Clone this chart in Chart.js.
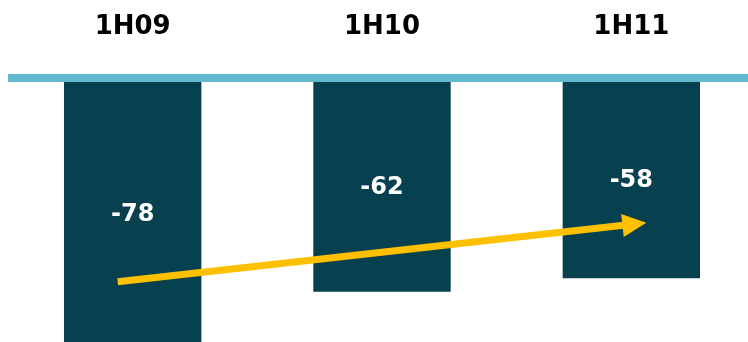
<!DOCTYPE html>
<html>
<head>
<meta charset="utf-8">
<script src="https://cdn.jsdelivr.net/npm/chart.js@4/dist/chart.umd.min.js"></script>
<style>
  html, body { margin: 0; padding: 0; background: #ffffff; overflow: hidden; }
  #wrap { position: relative; width: 760px; height: 350px; }
</style>
</head>
<body>
<div id="wrap"><canvas id="chart"></canvas></div>
<script>
// Half-year periods and their values
const categories = ['1H09', '1H10', '1H11'];
const values = [-78, -62, -58];

// Trend arrow, in axis units: [category index, value]
const trendFrom = [-0.06, -59];
const trendTo = [2.06, -41.6];

const BAR_COLOR = '#07404F';
const AXIS_COLOR = '#62B8CC';
const ARROW_COLOR = '#FFC000';

// Thick baseline along the top of the plot area
const baselinePlugin = {
  id: 'baseline',
  afterDraw(chart) {
    const { ctx, chartArea } = chart;
    ctx.save();
    ctx.fillStyle = AXIS_COLOR;
    ctx.fillRect(chartArea.left, chartArea.top - 8, chart.width - chartArea.left, 8);
    ctx.restore();
  }
};

// Value labels centred on each bar
const valueLabelPlugin = {
  id: 'valueLabels',
  afterDatasetsDraw(chart) {
    const { ctx } = chart;
    const meta = chart.getDatasetMeta(0);
    ctx.save();
    ctx.fillStyle = '#ffffff';
    ctx.font = 'bold 24px "DejaVu Sans"';
    ctx.textAlign = 'center';
    ctx.textBaseline = 'middle';
    meta.data.forEach((bar, i) => {
      const y = (bar.y + bar.base) / 2 + 1;
      ctx.fillText(String(values[i]), bar.x, y);
    });
    ctx.restore();
  }
};

// Trend arrow across the bars
const arrowPlugin = {
  id: 'trendArrow',
  afterDatasetsDraw(chart) {
    const { ctx, scales } = chart;
    const x1 = scales.x.getPixelForValue(trendFrom[0]);
    const y1 = scales.y.getPixelForValue(trendFrom[1]);
    const x2 = scales.x.getPixelForValue(trendTo[0]);
    const y2 = scales.y.getPixelForValue(trendTo[1]);
    const ang = Math.atan2(y2 - y1, x2 - x1);
    const headLen = 24, headHalf = 11.5;
    const bx = x2 - headLen * Math.cos(ang);
    const by = y2 - headLen * Math.sin(ang);
    ctx.save();
    ctx.strokeStyle = ARROW_COLOR;
    ctx.fillStyle = ARROW_COLOR;
    ctx.lineWidth = 7;
    ctx.lineCap = 'butt';
    ctx.beginPath();
    ctx.moveTo(x1, y1);
    ctx.lineTo(bx + Math.cos(ang), by + Math.sin(ang));
    ctx.stroke();
    ctx.beginPath();
    ctx.moveTo(x2, y2);
    ctx.lineTo(bx - headHalf * Math.sin(ang), by + headHalf * Math.cos(ang));
    ctx.lineTo(bx + headHalf * Math.sin(ang), by - headHalf * Math.cos(ang));
    ctx.closePath();
    ctx.fill();
    ctx.restore();
  }
};

new Chart(document.getElementById('chart'), {
  type: 'bar',
  data: {
    labels: categories,
    datasets: [{
      data: values,
      backgroundColor: BAR_COLOR,
      borderWidth: 0,
      barPercentage: 0.551,
      categoryPercentage: 1.0
    }]
  },
  options: {
    responsive: true,
    maintainAspectRatio: false,
    animation: false,
    layout: { padding: { top: 10, left: 8, right: 4, bottom: 4 } },
    plugins: { legend: { display: false }, tooltip: { enabled: false } },
    scales: {
      x: {
        type: 'category',
        position: 'top',
        offset: true,
        grid: { display: false },
        border: { display: false },
        afterFit(scale) { scale.height = 72; },
        ticks: {
          color: '#000000',
          padding: 31,
          maxRotation: 0,
          font: { family: '"DejaVu Sans"', weight: 'bold', size: 26 }
        }
      },
      y: {
        display: false,
        min: -78,
        max: 0
      }
    }
  },
  plugins: [baselinePlugin, valueLabelPlugin, arrowPlugin]
});
</script>
</body>
</html>
